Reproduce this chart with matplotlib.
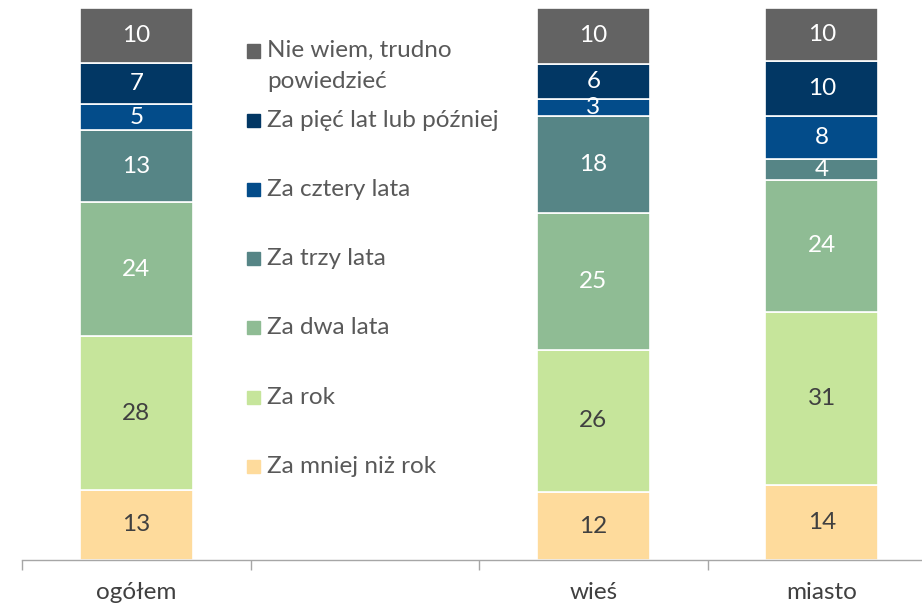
import numpy as np
import matplotlib.pyplot as plt
from matplotlib.patches import Rectangle

plt.rcParams['font.family'] = ['Lato', 'DejaVu Sans']

# kategorie (pusty slot na legendę)
categories = ['ogółem', '', 'wieś', 'miasto']
groups = ['ogółem', 'wieś', 'miasto']

series_names = ['Za mniej niż rok', 'Za rok', 'Za dwa lata', 'Za trzy lata',
                'Za cztery lata', 'Za pięć lat lub później',
                'Nie wiem, trudno\npowiedzieć']

# udziały w % (ogółem, wieś, miasto)
mniej_niz_rok = [12.7, 12.3, 13.6]
za_rok = [27.8, 25.8, 31.4]
dwa_lata = [24.3, 24.7, 23.8]
trzy_lata = [13.1, 17.6, 3.8]
cztery_lata = [4.7, 3.1, 7.8]
piec_lat = [7.4, 6.4, 10.0]
nie_wiem = [10.0, 10.1, 9.6]

series = [mniej_niz_rok, za_rok, dwa_lata, trzy_lata, cztery_lata, piec_lat, nie_wiem]
colors = ['#FEDB9C', '#C6E59B', '#8FBC94', '#568586', '#034C8A', '#023764', '#636363']
text_colors = ['#404040', '#404040', 'white', 'white', 'white', 'white', 'white']

FS = 17.5

fig = plt.figure(figsize=(9.22, 6.08), dpi=100)
W, H = 922, 608
# oś rozciąga się poza prawą krawędź (jak w oryginale)
ax = fig.add_axes([22 / W, (H - 560) / H, 914 / W, 552 / H])

x = np.array([categories.index(g) for g in groups])
bottom = np.zeros(len(groups))
for vals, col, tcol in zip(series, colors, text_colors):
    bars = ax.bar(x, vals, width=0.495, bottom=bottom, color=col,
                  edgecolor='white', linewidth=1.2)
    ax.bar_label(bars, labels=[f'{v:.0f}' for v in vals], label_type='center',
                 color=tcol, fontsize=FS)
    bottom += np.array(vals)

ax.set_xlim(-0.5, 3.5)
ax.set_ylim(0, 100)
ax.set_yticks([])
for s in ['top', 'right', 'left']:
    ax.spines[s].set_visible(False)
ax.spines['bottom'].set_color('#A6A6A6')
ax.spines['bottom'].set_linewidth(1.0)

ax.set_xticks(range(len(categories)))
ax.set_xticklabels(categories, fontsize=FS, color='#404040')
ax.tick_params(axis='x', which='major', length=0, pad=16)
ax.set_xticks(np.arange(-0.5, 3.6, 1.0), minor=True)
ax.tick_params(axis='x', which='minor', length=7, color='#A6A6A6', width=1.0)

# legenda ręcznie w pustym slocie
for k, i in enumerate(range(len(series) - 1, -1, -1)):
    yc = 51 + 69.2 * k
    fig.patches.append(Rectangle((247 / W, (H - yc - 6.5) / H), 13 / W, 13 / H,
                                 transform=fig.transFigure, color=colors[i]))
    fig.text(267 / W, (H - yc) / H, series_names[i], fontsize=FS, color='#595959',
             va='center', ha='left', linespacing=1.6)
# pierwszy wpis ma dwie linie - górna linia na wysokości znacznika
fig.texts[0].set_position((267 / W, (H - 66) / H))

plt.savefig('out.png', dpi=100)
